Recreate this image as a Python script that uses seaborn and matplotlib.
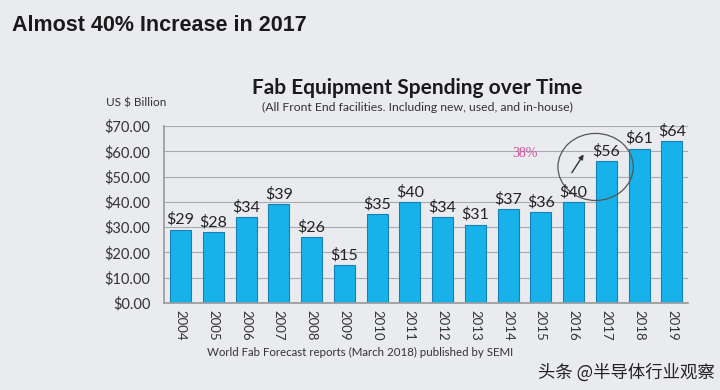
import numpy as np
import pandas as pd
import seaborn as sns
import matplotlib.pyplot as plt
from matplotlib.patches import Ellipse

# data
anos = ['2004', '2005', '2006', '2007', '2008', '2009', '2010', '2011',
        '2012', '2013', '2014', '2015', '2016', '2017', '2018', '2019']
gasto = [29, 28, 34, 39, 26, 15, 35, 40, 34, 31, 37, 36, 40, 56, 61, 64]
rotulos = ['$' + str(v) for v in gasto]

df = pd.DataFrame({'ano': anos, 'gasto': gasto})

sns.set_theme(style='white')
plt.rcParams['font.family'] = ['Lato', 'Noto Sans CJK SC', 'DejaVu Sans']

fig = plt.figure(figsize=(7.2, 3.9), dpi=100, facecolor='#eaebef')
ax = fig.add_axes([0.228, 0.223, 0.728, 0.454])
ax.set_facecolor('#eaebef')

sns.barplot(data=df, x='ano', y='gasto', color='#17b2ea', saturation=1,
            width=0.64, edgecolor='#1780b8', linewidth=0.8, ax=ax)

ax.set_ylim(0, 70)
ax.set_yticks(np.arange(0, 71, 10))
ax.set_yticklabels(['$%.2f' % v for v in np.arange(0, 71, 10)], fontsize=10.5, color='#333333')
ax.grid(axis='y', color='#a9abb0', linewidth=0.8)
ax.set_axisbelow(True)
for s in ['top', 'right']:
    ax.spines[s].set_visible(False)
ax.spines['left'].set_color('#9a9ca0')
ax.spines['bottom'].set_color('#9a9ca0')
ax.set_xlim(-0.5, len(anos) - 0.5)
ax.set_xticks(range(len(anos)))
ax.set_xticklabels(anos, rotation=-90, fontsize=9.5, color='#333333')
ax.set_xticks(np.arange(-0.5, len(anos), 1), minor=True)
ax.tick_params(axis='x', which='major', length=0, pad=5)
ax.tick_params(axis='x', which='minor', length=4, color='#9a9ca0', direction='inout')
ax.tick_params(axis='y', length=4, color='#9a9ca0', direction='inout', pad=8)
ax.set_xlabel('')
ax.set_ylabel('')

for barra, txt in zip(ax.patches, rotulos):
    ax.annotate(txt, (barra.get_x() + barra.get_width() / 2, barra.get_height()),
                ha='center', va='bottom', fontsize=11.5, color='#222222',
                xytext=(0, 2), textcoords='offset points')

# destaque 2016 -> 2017
ax.add_patch(Ellipse((12.67, 53.8), 2.3, 26.5, fill=False, edgecolor='#555555', linewidth=0.9))
ax.annotate('', xy=(12.35, 59.7), xytext=(11.9, 50.6),
            arrowprops=dict(arrowstyle='-|>', color='#333333', lw=1, mutation_scale=7))
ax.text(10.5, 59.3, '38%', fontsize=10, color='#d0509a', family='Liberation Serif',
        ha='center', va='center')

# textos da figura
fig.text(0.016, 0.935, 'Almost 40% Increase in 2017', fontsize=15.5, fontweight='bold',
         family='Liberation Sans', color='#1a1a1a', va='center')
fig.text(0.58, 0.775, 'Fab Equipment Spending over Time', fontsize=15, fontweight='bold',
         color='#1a1a1a', ha='center', va='center')
fig.text(0.58, 0.725, '(All Front End facilities. Including new, used, and in-house)',
         fontsize=8.8, color='#333333', ha='center', va='center')
fig.text(0.189, 0.737, 'US $ Billion', fontsize=8.5, color='#333333', ha='center', va='center')
fig.text(0.5, 0.097, 'World Fab Forecast reports (March 2018) published by SEMI',
         fontsize=8.3, color='#333333', ha='center', va='center')
fig.text(0.993, 0.045, '头条 @半导体行业观察', fontsize=12.5, color='#222222',
         family=['Noto Sans CJK SC', 'DejaVu Sans'], ha='right', va='center')

fig.savefig('out.png', dpi=100, facecolor=fig.get_facecolor())
